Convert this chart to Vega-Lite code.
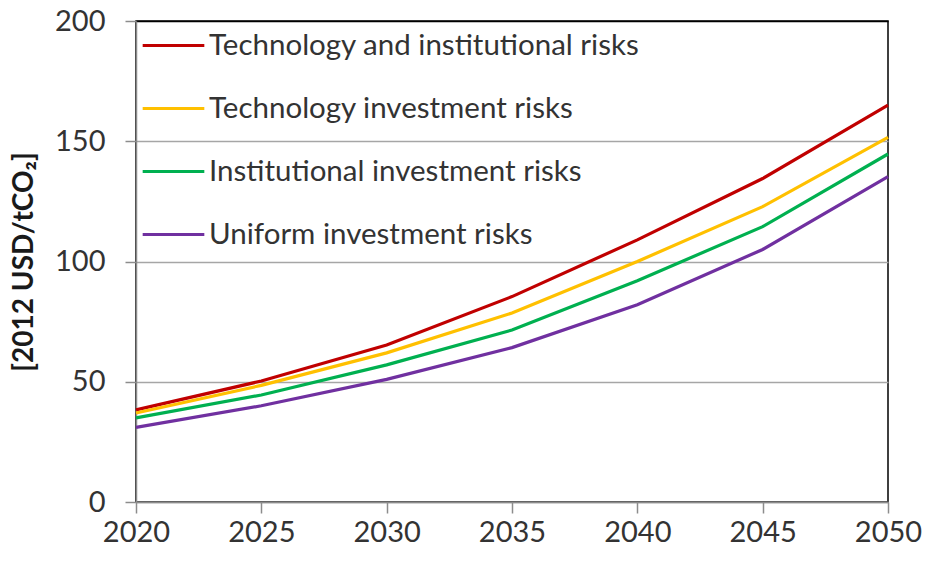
{
  "$schema": "https://vega.github.io/schema/vega-lite/v6.json",
  "width": 752,
  "height": 481,
  "autosize": {"type": "none"},
  "padding": {"left": 136, "top": 21, "right": 37, "bottom": 59},
  "background": "white",
  "config": {
    "font": "Lato",
    "view": {"stroke": "black", "strokeWidth": 1.5},
    "axis": {"labelFont": "Lato", "titleFont": "Lato"}
  },
  "data": {
    "values": [
      {"year": 2020, "series": "Technology and institutional risks", "value": 38.3},
      {"year": 2025, "series": "Technology and institutional risks", "value": 50.3},
      {"year": 2030, "series": "Technology and institutional risks", "value": 65.3},
      {"year": 2035, "series": "Technology and institutional risks", "value": 85.4},
      {"year": 2040, "series": "Technology and institutional risks", "value": 109},
      {"year": 2045, "series": "Technology and institutional risks", "value": 134.5},
      {"year": 2050, "series": "Technology and institutional risks", "value": 165},
      {"year": 2020, "series": "Technology investment risks", "value": 37},
      {"year": 2025, "series": "Technology investment risks", "value": 48.5},
      {"year": 2030, "series": "Technology investment risks", "value": 62},
      {"year": 2035, "series": "Technology investment risks", "value": 78.6},
      {"year": 2040, "series": "Technology investment risks", "value": 100},
      {"year": 2045, "series": "Technology investment risks", "value": 122.8},
      {"year": 2050, "series": "Technology investment risks", "value": 151.6},
      {"year": 2020, "series": "Institutional investment risks", "value": 35},
      {"year": 2025, "series": "Institutional investment risks", "value": 44.5},
      {"year": 2030, "series": "Institutional investment risks", "value": 57},
      {"year": 2035, "series": "Institutional investment risks", "value": 71.5},
      {"year": 2040, "series": "Institutional investment risks", "value": 92},
      {"year": 2045, "series": "Institutional investment risks", "value": 114.5},
      {"year": 2050, "series": "Institutional investment risks", "value": 144.7},
      {"year": 2020, "series": "Uniform investment risks", "value": 31},
      {"year": 2025, "series": "Uniform investment risks", "value": 40},
      {"year": 2030, "series": "Uniform investment risks", "value": 51},
      {"year": 2035, "series": "Uniform investment risks", "value": 64.2},
      {"year": 2040, "series": "Uniform investment risks", "value": 82},
      {"year": 2045, "series": "Uniform investment risks", "value": 105},
      {"year": 2050, "series": "Uniform investment risks", "value": 135.3}
    ]
  },
  "mark": {"type": "line", "strokeWidth": 3.2, "interpolate": "linear"},
  "encoding": {
    "x": {
      "field": "year",
      "type": "quantitative",
      "scale": {"domain": [2020, 2050], "nice": false, "zero": false},
      "axis": {
        "title": null,
        "values": [2020, 2025, 2030, 2035, 2040, 2045, 2050],
        "format": "d",
        "grid": false,
        "domainColor": "#8c8c8c",
        "domainWidth": 1.5,
        "tickColor": "#8c8c8c",
        "tickWidth": 1.5,
        "tickSize": 11,
        "labelFontSize": 29,
        "labelColor": "#333333",
        "labelPadding": 5,
        "labelFlush": false
      }
    },
    "y": {
      "field": "value",
      "type": "quantitative",
      "scale": {"domain": [0, 200], "nice": false},
      "axis": {
        "title": "[2012 USD/tCO₂]",
        "titleFontSize": 28,
        "titleFontWeight": "bold",
        "titleColor": "#1a1a1a",
        "titlePadding": 16,
        "values": [0, 50, 100, 150, 200],
        "grid": true,
        "gridColor": {"condition": {"test": "datum.value == 200", "value": "black"}, "value": "#a6a6a6"},
        "gridWidth": 1.5,
        "domainColor": "#8c8c8c",
        "domainWidth": 1.5,
        "tickColor": "#8c8c8c",
        "tickWidth": 1.5,
        "tickSize": 11,
        "labelFontSize": 29,
        "labelColor": "#333333",
        "labelPadding": 20
      }
    },
    "color": {
      "field": "series",
      "type": "nominal",
      "sort": ["Technology and institutional risks", "Technology investment risks", "Institutional investment risks", "Uniform investment risks"],
      "scale": {
        "domain": ["Technology and institutional risks", "Technology investment risks", "Institutional investment risks", "Uniform investment risks"],
        "range": ["#C00000", "#FFC000", "#00B050", "#7030A0"]
      },
      "legend": {
        "title": null,
        "orient": "none",
        "legendX": 5,
        "legendY": -8,
        "symbolType": "stroke",
        "symbolSize": 3800,
        "symbolStrokeWidth": 3.2,
        "labelFontSize": 29.5,
        "labelColor": "#333333",
        "labelOffset": 3,
        "rowPadding": 16,
        "labelLimit": 600
      }
    }
  }
}
